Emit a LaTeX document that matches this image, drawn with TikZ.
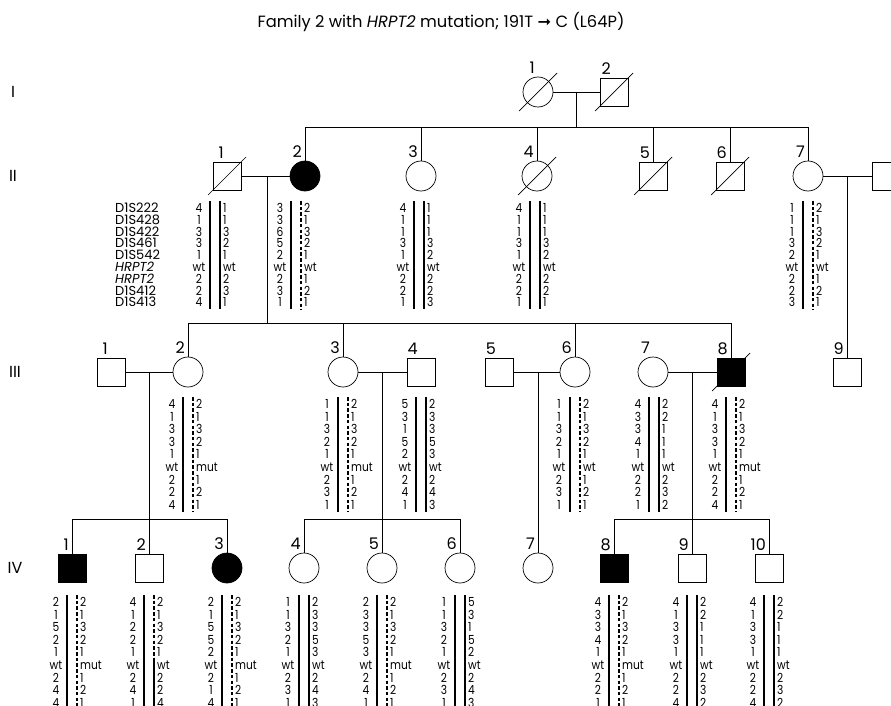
\documentclass[tikz,border=0pt]{standalone}
\usepackage{fontspec}
\setmainfont{Poppins}
\newfontfamily\hapfont[FakeStretch=0.85]{Poppins}
\newfontfamily\arrfont{DejaVu Sans}
\usepackage{tikz}

\tikzset{
  ped/.style={line width=0.7pt},
  male/.style={ped, draw, rectangle, minimum size=28pt, inner sep=0pt},
  female/.style={ped, draw, circle, minimum size=30pt, inner sep=0pt},
  affected/.style={fill=black},
  idno/.style={label={[font=\fontsize{16}{16}\selectfont, anchor=south east, xshift=-3pt, yshift=3pt, inner sep=0pt]north:#1}},
  gen/.style={font=\fontsize{16}{16}\selectfont, inner sep=0pt},
  hap/.style={font=\hapfont\fontsize{12.5}{12.5}\selectfont, inner sep=0pt},
  marker/.style={font=\fontsize{13}{13}\selectfont, inner sep=0pt},
  bar/.style={line width=1.1pt},
  dbar/.style={line width=1.1pt, dash pattern=on 3.5pt off 2.2pt},
}
\newcommand{\dead}[1]{\draw[ped] ([shift={(-19,19)}]#1.center) -- ([shift={(19,-19)}]#1.center);}
% name, centre x, first row y, row step, left alleles, right alleles, right bar
\newcommand{\haplo}[7]{%
  \foreach \a [count=\i from 0] in {#5}
    \node[hap, anchor=base] (#1l\i) at ({#2-16},{#3+\i*#4+4.5}) {\a};
  \foreach \a [count=\i from 0] in {#6}
    \node[hap, anchor=base west] (#1r\i) at ({#2+8},{#3+\i*#4+4.5}) {\a};
  \draw[bar] ({#2-5},{#3-7}) -- ({#2-5},{#3+8*#4+7});
  \draw[#7] ({#2+5},{#3-7}) -- ({#2+5},{#3+8*#4+7});
}

\begin{document}
\begin{tikzpicture}[x=1pt,y=-1pt]
  \useasboundingbox (0,0) rectangle (891,706);
  \node[font=\fontsize{16.3}{16.3}\selectfont] (title) at (441,22)
    {Family 2 with \textit{HRPT2} mutation; 191T {\arrfont ➞} C (L64P)};

  \node[gen] (gI) at (13,92) {I};
  \node[gen] (gII) at (13,176) {II};
  \node[gen] (gIII) at (15,372) {III};
  \node[gen] (gIV) at (15,568) {IV};

  % generation I
  \node[female, idno=1] (I1) at (538,92) {};
  \node[male, idno=2] (I2) at (614,92) {};
  \dead{I1} \dead{I2}
  \coordinate (mI) at (576,92);
  \coordinate (sII) at (576,127);
  \draw[ped] (I1) -- (I2);
  \draw[ped] (mI) -- (sII);

  % generation II
  \node[male, idno=1] (II1) at (227,176) {};
  \node[female, affected, idno=2] (II2) at (305,176) {};
  \node[female, idno=3] (II3) at (421,176) {};
  \node[female, idno=4] (II4) at (537,176) {};
  \node[male, idno=5] (II5) at (653,176) {};
  \node[male, idno=6] (II6) at (730,176) {};
  \node[female, idno=7] (II7) at (808,176) {};
  \node[male] (II8) at (886,176) {};
  \dead{II1} \dead{II4} \dead{II5} \dead{II6}
  \draw[ped] (II2 |- sII) -- (II7 |- sII);
  \foreach \n in {II2,II3,II4,II5,II6,II7}
    \draw[ped] (\n) -- (\n |- sII);
  \coordinate (mII) at (267,176);
  \coordinate (sIII) at (267,323);
  \coordinate (mIIb) at (847,176);
  \draw[ped] (II1) -- (II2);
  \draw[ped] (mII) -- (sIII);
  \draw[ped] (II7) -- (II8);

  \foreach \m [count=\i from 0] in {D1S222,D1S428,D1S422,D1S461,D1S542,\textit{HRPT2},\textit{HRPT2},D1S412,D1S413}
    \node[marker, anchor=base west] (mk\i) at (115,{208+\i*11.8+4.5}) {\m};
  \haplo{hII1}{215}{208}{11.8}{4,1,3,3,1,wt,2,2,4}{1,1,3,2,1,wt,2,3,1}{bar}
  \haplo{hII2}{296}{208}{11.8}{3,3,6,5,2,wt,2,3,1}{2,1,3,2,1,wt,1,2,1}{dbar}
  \haplo{hII3}{419}{208}{11.8}{4,1,1,3,1,wt,2,2,1}{1,1,1,3,2,wt,2,2,3}{bar}
  \haplo{hII4}{535}{208}{11.8}{4,1,1,3,1,wt,2,2,1}{1,1,1,3,2,wt,2,2,1}{bar}
  \haplo{hII7}{808}{208}{11.8}{1,1,1,3,2,wt,2,2,3}{2,1,3,2,1,wt,1,2,1}{dbar}

  % generation III
  \node[male, idno=1] (III1) at (111,372) {};
  \node[female, idno=2] (III2) at (188,372) {};
  \node[female, idno=3] (III3) at (343,372) {};
  \node[male, idno=4] (III4) at (421,372) {};
  \node[male, idno=5] (III5) at (499,372) {};
  \node[female, idno=6] (III6) at (575,372) {};
  \node[female, idno=7] (III7) at (653,372) {};
  \node[male, affected, idno=8] (III8) at (731,372) {};
  \node[male, idno=9] (III9) at (847,372) {};
  \dead{III8}
  \draw[ped] (III2 |- sIII) -- (III8 |- sIII);
  \foreach \n in {III2,III3,III6,III8}
    \draw[ped] (\n) -- (\n |- sIII);
  \draw[ped] (mIIb) -- (III9);
  \coordinate (mIIIa) at (149,372);
  \coordinate (mIIIb) at (382,372);
  \coordinate (mIIIc) at (538,372);
  \coordinate (mIIId) at (692,372);
  \coordinate (sIVa) at (149,519);
  \coordinate (sIVb) at (382,519);
  \coordinate (sIVd) at (692,519);
  \draw[ped] (III1) -- (III2);
  \draw[ped] (III3) -- (III4);
  \draw[ped] (III5) -- (III6);
  \draw[ped] (III7) -- (III8);
  \draw[ped] (mIIIa) -- (sIVa);
  \draw[ped] (mIIIb) -- (sIVb);
  \draw[ped] (mIIId) -- (sIVd);

  \haplo{hIII2}{188}{404}{12.6}{4,1,3,3,1,wt,2,2,4}{2,1,3,2,1,mut,1,2,1}{dbar}
  \haplo{hIII3}{343}{404}{12.6}{1,1,3,2,1,wt,2,3,1}{2,1,3,2,1,mut,1,2,1}{dbar}
  \haplo{hIII4}{421}{404}{12.6}{5,3,1,5,2,wt,2,4,1}{2,3,3,5,3,wt,2,4,3}{bar}
  \haplo{hIII6}{575}{404}{12.6}{1,1,3,2,1,wt,2,3,1}{2,1,3,2,1,wt,1,2,1}{dbar}
  \haplo{hIII7}{654}{404}{12.6}{4,3,3,4,1,wt,2,2,1}{2,2,1,1,1,wt,2,3,2}{bar}
  \haplo{hIII8}{731}{404}{12.6}{4,1,3,3,1,wt,2,2,4}{2,1,3,2,1,mut,1,2,1}{dbar}

  % generation IV
  \node[male, affected, idno=1] (IV1) at (72,568) {};
  \node[male, idno=2] (IV2) at (149,568) {};
  \node[female, affected, idno=3] (IV3) at (227,568) {};
  \node[female, idno=4] (IV4) at (304,568) {};
  \node[female, idno=5] (IV5) at (382,568) {};
  \node[female, idno=6] (IV6) at (460,568) {};
  \node[female, idno=7] (IV7) at (538,568) {};
  \node[male, affected, idno=8] (IV8) at (614,568) {};
  \node[male, idno=9] (IV9) at (692,568) {};
  \node[male, idno=10] (IV10) at (769,568) {};
  \draw[ped] (IV1 |- sIVa) -- (IV3 |- sIVa);
  \draw[ped] (IV4 |- sIVb) -- (IV6 |- sIVb);
  \draw[ped] (IV8 |- sIVd) -- (IV10 |- sIVd);
  \foreach \n in {IV1,IV2,IV3}
    \draw[ped] (\n) -- (\n |- sIVa);
  \foreach \n in {IV4,IV5,IV6}
    \draw[ped] (\n) -- (\n |- sIVb);
  \foreach \n in {IV8,IV9,IV10}
    \draw[ped] (\n) -- (\n |- sIVd);
  \draw[ped] (mIIIc) -- (IV7);

  \haplo{hIV1}{72}{602}{12.6}{2,1,5,2,1,wt,2,4,4}{2,1,3,2,1,mut,1,2,1}{dbar}
  \haplo{hIV2}{149}{602}{12.6}{4,1,2,2,1,wt,2,4,1}{2,1,3,2,1,wt,2,2,4}{draw=none}
  \draw[dbar] (154,595) -- (154,659);
  \draw[bar] (154,659) -- (154,709);
  \haplo{hIV3}{227}{602}{12.6}{2,1,5,5,2,wt,2,1,4}{2,1,3,2,1,mut,1,2,1}{dbar}
  \haplo{hIV4}{304}{602}{12.6}{1,1,3,2,1,wt,2,3,1}{2,3,3,5,3,wt,2,4,3}{bar}
  \haplo{hIV5}{382}{602}{12.6}{2,3,3,5,3,wt,2,4,1}{2,1,3,2,1,mut,1,2,1}{dbar}
  \haplo{hIV6}{460}{602}{12.6}{1,1,3,2,1,wt,2,3,1}{5,3,1,5,2,wt,2,4,3}{bar}
  \haplo{hIV8}{614}{602}{12.6}{4,3,3,4,1,wt,2,2,1}{2,1,3,2,1,mut,1,2,1}{dbar}
  \haplo{hIV9}{692}{602}{12.6}{4,1,3,3,1,wt,2,2,4}{2,2,1,1,1,wt,2,3,2}{bar}
  \haplo{hIV10}{769}{602}{12.6}{4,1,3,3,1,wt,2,2,4}{2,2,1,1,1,wt,2,3,2}{bar}
\end{tikzpicture}
\end{document}
